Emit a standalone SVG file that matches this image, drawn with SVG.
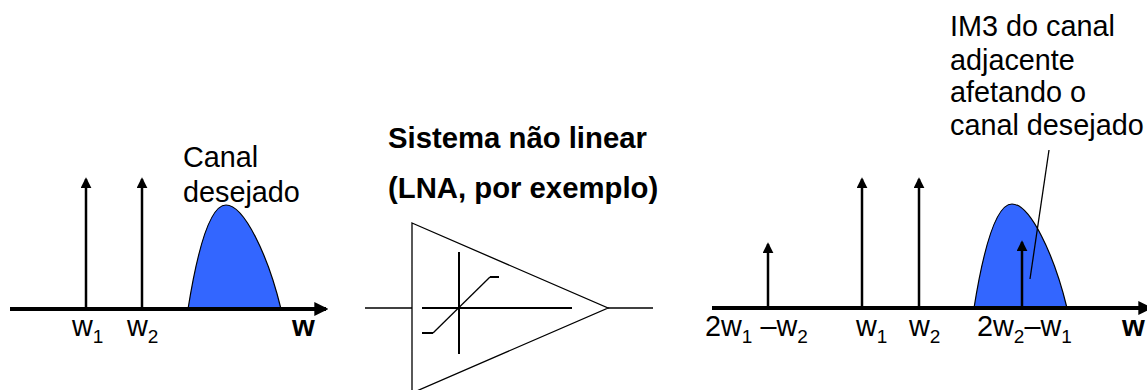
<svg xmlns="http://www.w3.org/2000/svg" width="1147" height="390" viewBox="0 0 1147 390">
<defs>
<style>
.t{font-family:"Liberation Sans",Arial,sans-serif;font-size:28.8px;fill:#000}
.b{font-weight:bold;font-size:29.3px}
.s{font-size:19px}
.ax{stroke:#000;stroke-width:4;fill:none}
.sp{stroke:#000;stroke-width:2.5;fill:none}
.ln{stroke:#000;stroke-width:1.3;fill:none}
.ln2{stroke:#000;stroke-width:2;fill:none}
.blob{fill:#3366FF;stroke:#000;stroke-width:1.2}
</style>
<marker id="axh" viewBox="0 0 12 12" refX="10" refY="6" markerWidth="3.5" markerHeight="3.5" markerUnits="strokeWidth" orient="auto"><path d="M0,0 L12,6 L0,12 Z" fill="#000"/></marker>
<marker id="sph" viewBox="0 0 12 12" refX="10" refY="6" markerWidth="4.4" markerHeight="4.4" markerUnits="strokeWidth" orient="auto"><path d="M0,0 L12,6 L0,12 Z" fill="#000"/></marker>
<path id="blobshape" class="blob" d="M0,0 C8,-50 20,-104 38,-104 C56,-104 80,-54 93,0 Z"/>
</defs>

<g id="left-spectrum">
<use href="#blobshape" x="188" y="309"/>
<line class="ax" x1="10" y1="309" x2="326" y2="309" marker-end="url(#axh)"/>
<line class="sp" x1="86" y1="309" x2="86" y2="179" marker-end="url(#sph)"/>
<line class="sp" x1="142" y1="309" x2="142" y2="179" marker-end="url(#sph)"/>
<text class="t" x="183" y="167">Canal</text>
<text class="t" x="183" y="202">desejado</text>
<text class="t" x="72" y="336">w<tspan class="s" dy="7">1</tspan></text>
<text class="t" x="127" y="336">w<tspan class="s" dy="7">2</tspan></text>
<text class="t b" x="292" y="336">w</text>
</g>

<g id="nonlinear-system">
<text class="t b" x="388" y="148">Sistema não linear</text>
<text class="t b" x="388" y="198">(LNA, por exemplo)</text>
<path class="ln" d="M412,223 L608,308 L412,393 Z"/>
<line class="ln" x1="365" y1="308" x2="412" y2="308"/>
<line class="ln" x1="608" y1="308" x2="653" y2="308"/>
<line class="ln2" x1="422" y1="308" x2="572" y2="308"/>
<line class="ln2" x1="459" y1="252" x2="459" y2="354"/>
<line class="ln" x1="433" y1="333" x2="490" y2="277"/>
<line class="ln2" x1="490" y1="277" x2="499" y2="277"/>
<line class="ln2" x1="422" y1="333" x2="433" y2="333"/>
</g>

<g id="right-spectrum">
<use href="#blobshape" x="974" y="308"/>
<line class="ax" x1="712" y1="308" x2="1150" y2="308" marker-end="url(#axh)"/>
<line class="sp" x1="768" y1="308" x2="768" y2="244" marker-end="url(#sph)"/>
<line class="sp" x1="862" y1="308" x2="862" y2="179" marker-end="url(#sph)"/>
<line class="sp" x1="919" y1="308" x2="919" y2="179" marker-end="url(#sph)"/>
<line class="sp" x1="1022" y1="308" x2="1022" y2="242" marker-end="url(#sph)"/>
<text class="t" x="705" y="336">2w<tspan class="s" dy="7">1</tspan><tspan dy="-7"> –w</tspan><tspan class="s" dy="7">2</tspan></text>
<text class="t" x="856" y="336">w<tspan class="s" dy="7">1</tspan></text>
<text class="t" x="909" y="336">w<tspan class="s" dy="7">2</tspan></text>
<text class="t" x="977" y="336">2w<tspan class="s" dy="7">2</tspan><tspan dy="-7">–w</tspan><tspan class="s" dy="7">1</tspan></text>
<text class="t b" x="1122" y="336">w</text>
</g>

<g id="im3-annotation">
<text class="t" x="950" y="36">IM3 do canal</text>
<text class="t" x="950" y="70">adjacente</text>
<text class="t" x="950" y="102">afetando o</text>
<text class="t" x="950" y="135">canal desejado</text>
</g>

<g id="connectors">
<line class="ln" x1="1049" y1="150" x2="1030" y2="279"/>
</g>
</svg>
